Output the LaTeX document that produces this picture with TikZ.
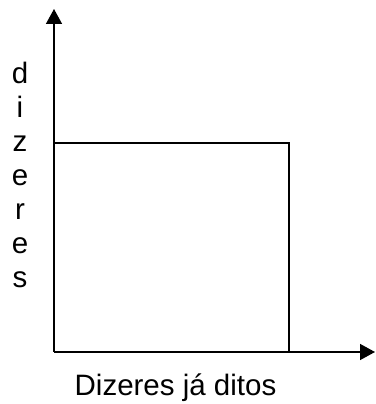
\documentclass[tikz,border=0pt]{standalone}
\usepackage{fontspec}
\setmainfont{Liberation Sans}
\usetikzlibrary{arrows.meta, positioning}

\tikzset{
  axisline/.style={line width=1.5pt, -{Triangle[length=15pt,width=16pt]}},
  boxline/.style={line width=1.4pt},
  letter/.style={anchor=base, inner sep=0pt, font=\fontsize{29.5}{34}\selectfont}
}

\begin{document}
\begin{tikzpicture}[x=1pt, y=1pt]
        \useasboundingbox (0,0) rectangle (375,404);
        \coordinate (origin) at (54,52);
        \coordinate (ytip) at (54,395);
        \coordinate (xtip) at (375,52);
        \coordinate (topleft) at (54,261);
        \coordinate (topright) at (289,261);
        \coordinate (botright) at (289,52);
        \draw[axisline] (origin) -- (ytip);
        \draw[axisline] (origin) -- (xtip);
        \draw[boxline] (topleft) -- (topright) -- (botright);
        % vertical label, one letter per line
        \foreach \ch [count=\k] in {d,i,z,e,r,e,s}
          \node[letter] (ylab\k) at (20, {354 - 34*\k}) {\ch};
        \node[letter] (xlab) at (175.5,9) {Dizeres já ditos};
      \end{tikzpicture}
\end{document}
